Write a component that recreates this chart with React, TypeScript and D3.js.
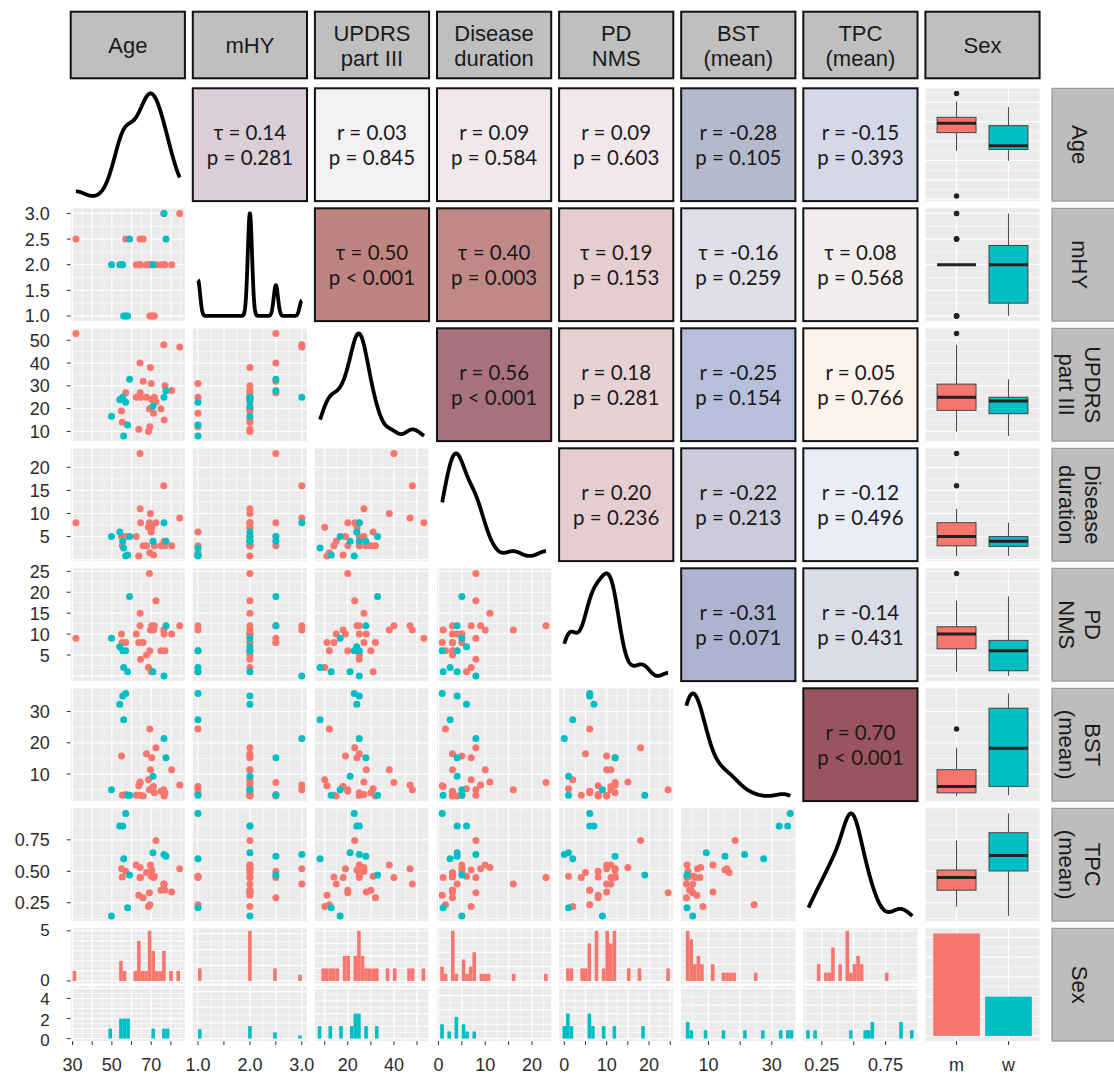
import React from "react";
import * as d3 from "d3";

// ---------------- data (one entry per subject: 26 men, 10 women) ----------------
const sex = [
  "m","m","m","m","m","m","m","m","m","m","m","m","m","m","m","m","m","m","m","m","m","m","m","m","m","m",
  "w","w","w","w","w","w","w","w","w","w",
];
const age = [
  31.7, 54.9, 55.3, 57.0, 62.4, 63.7, 64.3, 64.4, 64.6, 65.9, 67.6, 68.6, 69.1, 69.3, 69.6, 70.0, 70.3, 71.2, 71.6, 72.4, 75.0, 76.4, 76.6, 77.0, 80.4, 84.5,
  49.8, 77.5, 76.5, 70.9, 59.0, 54.0, 55.5, 57.0, 58.0, 56.0,
];
const mhy = [
  2.5, 2, 2, 2.5, 2, 2, 2.5, 2, 2, 2.5, 2, 2, 2, 1, 2, 1, 2, 1, 1, 2, 2, 3, 2, 2, 2, 3,
  2, 2.5, 3, 2, 2.5, 2, 2, 1, 1, 1,
];
const updrs = [
  53, 19, 14, 27, 25, 11, 40, 27, 25, 32, 25, 10, 20, 12, 38, 31, 24, 18, 25, 23, 20, 48, 15, 30, 28, 47,
  16.7, 27.8, 25, 21, 32.9, 23.9, 25, 22.8, 12.8, 8,
];
const duration = [
  8, 5, 3, 5, 5, 0.8, 23, 11, 8, 3, 3, 7, 8, 1.5, 10, 6, 7, 1, 3, 8, 3, 16, 4, 3, 3, 9,
  5, 4, 8, 4, 5, 6, 4, 0.8, 1, 2.5,
];
const nms = [
  9, 10, 8, 8, 10, 8, 12, 15, 4, 8, 5, 2, 24.5, 6, 11, 1, 12, 11, 12, 18, 6, 11, 10, 6, 10, 12,
  9, 12, 0, 1, 19, 7, 6, 6, 1, 2,
];
const bst = [
  null, 15.8, 3.2, 3.5, 3.2, 6.3, 7.3, 7.5, 3.2, 3, 16.5, 8.2, 5, 24.4, 11.4, 5.3, 15.2, 6, 4, 18.4, 4.5, 5, 3, 4, 11.4, 6.5,
  5, 15.2, 21.4, 9.3, 3.2, 32.3, 35, 35.8, 3.2, 27.4,
];
const tpc = [
  null, 0.52, 0.455, 0.5, 0.55, 0.31, 0.45, 0.53, 0.45, 0.29, 0.49, 0.22, 0.33, 0.235, 0.55, 0.46, 0.51, 0.45, 0.46, 0.745, 0.35, 0.4, 0.4, 0.35, 0.335, 0.52,
  0.145, 0.62, 0.633, 0.647, 0.47, 0.86, 0.86, 0.96, 0.21, 0.6,
];

const varNames = [["Age"], ["mHY"], ["UPDRS", "part III"], ["Disease", "duration"], ["PD", "NMS"], ["BST", "(mean)"], ["TPC", "(mean)"], ["Sex"]];
const sexLevels = ["m", "w"];

// tick values per variable (x axis, bottom) and label subsets
const tickVals = [
  [30, 40, 50, 60, 70, 80],
  [1, 1.5, 2, 2.5, 3],
  [10, 20, 30, 40, 50],
  [0, 5, 10, 15, 20],
  [0, 5, 10, 15, 20, 25],
  [10, 20, 30],
  [0.25, 0.5, 0.75],
];
const xLabelVals = [[30, 50, 70], [1, 2, 3], [20, 40], [0, 10, 20], [0, 10, 20], [10, 30], [0.25, 0.75]];
const yLabelVals = [[], [1, 1.5, 2, 2.5, 3], [10, 20, 30, 40, 50], [5, 10, 15, 20], [5, 10, 15, 20, 25], [10, 20, 30], [0.25, 0.5, 0.75]];
const labelDigits = [0, 1, 0, 0, 0, 0, 2];
const sexRowTopLabels = [0, 5];
const sexRowBottomLabels = [0, 2, 4];

// correlation cells, upper triangle row by row
const corrStat = [
  "τ = 0.14", "r = 0.03", "r = 0.09", "r = 0.09", "r = -0.28", "r = -0.15",
  "τ = 0.50", "τ = 0.40", "τ = 0.19", "τ = -0.16", "τ = 0.08",
  "r = 0.56", "r = 0.18", "r = -0.25", "r = 0.05",
  "r = 0.20", "r = -0.22", "r = -0.12",
  "r = -0.31", "r = -0.14",
  "r = 0.70",
];
const corrP = [
  "p = 0.281", "p = 0.845", "p = 0.584", "p = 0.603", "p = 0.105", "p = 0.393",
  "p < 0.001", "p = 0.003", "p = 0.153", "p = 0.259", "p = 0.568",
  "p < 0.001", "p = 0.281", "p = 0.154", "p = 0.766",
  "p = 0.236", "p = 0.213", "p = 0.496",
  "p = 0.071", "p = 0.431",
  "p < 0.001",
];
const corrFill = [
  "#dcced6", "#f3f1f3", "#f2e8eb", "#f2e8eb", "#b4bacc", "#d5d8e9",
  "#bf8381", "#c08886", "#e6cdd0", "#dedfe7", "#f3eeee",
  "#a7727d", "#e6d2d3", "#b7bfda", "#fdf3ec",
  "#e6cdd2", "#cbcbdc", "#e9edf6",
  "#aeb3cf", "#dadde8",
  "#99545f",
];

// ---------------- layout ----------------
const PX0 = 70.7, PSTEP = 122.1, PW = 114.2;
const PY0 = 88.3, PYSTEP = 120, PH = 112.8;
const HEAD_Y = 11.7, HEAD_H = 66.6;
const STRIP_X = 1052, STRIP_W = 70;
const COLORS: Record<string, string> = { m: "#F8766D", w: "#00BFC4" };
const PANEL_BG = "#EBEBEB";
const AXIS_FONT = "'Liberation Sans', Arial, sans-serif";
const CORR_FONT = "Lato, 'Noto Sans', 'DejaVu Sans', sans-serif";

const colL = (i: number) => PX0 + i * PSTEP;
const rowT = (j: number) => PY0 + j * PYSTEP;

function nrd0(x: number[]) {
  const s = d3.deviation(x) as number;
  const sorted = x.slice().sort(d3.ascending);
  const iqr = (d3.quantileSorted(sorted, 0.75) as number) - (d3.quantileSorted(sorted, 0.25) as number);
  let lo = Math.min(s, iqr / 1.34);
  if (!lo) lo = s || Math.abs(sorted[0]) || 1;
  return 0.9 * lo * Math.pow(x.length, -0.2);
}

function density(x: number[]) {
  const bw = nrd0(x);
  const [mn, mx] = d3.extent(x) as [number, number];
  const pts: [number, number][] = [];
  const N = 512;
  const c = 1 / (x.length * bw * Math.sqrt(2 * Math.PI));
  for (let i = 0; i < N; i++) {
    const t = mn + ((mx - mn) * i) / (N - 1);
    let s = 0;
    for (const v of x) {
      const z = (t - v) / bw;
      s += Math.exp(-0.5 * z * z);
    }
    pts.push([t, s * c]);
  }
  return pts;
}

function boxStats(vals: number[]) {
  const s = vals.slice().sort(d3.ascending);
  const q1 = d3.quantileSorted(s, 0.25) as number;
  const med = d3.quantileSorted(s, 0.5) as number;
  const q3 = d3.quantileSorted(s, 0.75) as number;
  const iqr = q3 - q1;
  const lo = q1 - 1.5 * iqr, hi = q3 + 1.5 * iqr;
  const inside = s.filter((v) => v >= lo && v <= hi);
  return { q1, med, q3, wlo: d3.min(inside) as number, whi: d3.max(inside) as number, out: s.filter((v) => v < lo || v > hi) };
}

function histBreaks(all: number[], bins = 30) {
  const [mn, mx] = d3.extent(all) as [number, number];
  const w = (mx - mn) / (bins - 1);
  const boundary = w / 2;
  const shift = Math.floor((mn - boundary) / w);
  const origin = boundary + shift * w;
  const breaks: number[] = [];
  for (let k = 0; origin + k * w <= mx + (1 - 1e-8) * w; k++) breaks.push(origin + k * w);
  return { breaks, origin, w };
}

function countBins(vals: number[], origin: number, w: number, nb: number) {
  const counts = new Array(nb).fill(0);
  for (const v of vals) {
    let k = Math.ceil((v - origin) / w - 1e-9) - 1;
    if (k < 0) k = 0;
    if (k > nb - 1) k = nb - 1;
    counts[k]++;
  }
  return counts;
}

function minors(ticks: number[], dom: number[]) {
  const step = ticks[1] - ticks[0];
  const out: number[] = [];
  for (let t = ticks[0] - step / 2; t <= ticks[ticks.length - 1] + step / 2 + 1e-9; t += step) {
    if (t >= dom[0] && t <= dom[1]) out.push(t);
  }
  return out;
}

function Grid(props: { x0: number; x1: number; y0: number; y1: number; xMaj: number[]; xMin: number[]; yMaj: number[]; yMin: number[] }) {
  const { x0, x1, y0, y1, xMaj, xMin, yMaj, yMin } = props;
  return (
    <g>
      <rect x={x0} y={y0} width={x1 - x0} height={y1 - y0} fill={PANEL_BG} />
      {xMin.map((x, i) => <line key={"xm" + i} x1={x} x2={x} y1={y0} y2={y1} stroke="#fff" strokeWidth={0.6} />)}
      {yMin.map((y, i) => <line key={"ym" + i} x1={x0} x2={x1} y1={y} y2={y} stroke="#fff" strokeWidth={0.6} />)}
      {xMaj.map((x, i) => <line key={"xM" + i} x1={x} x2={x} y1={y0} y2={y1} stroke="#fff" strokeWidth={1.2} />)}
      {yMaj.map((y, i) => <line key={"yM" + i} x1={x0} x2={x1} y1={y} y2={y} stroke="#fff" strokeWidth={1.2} />)}
    </g>
  );
}

export default function App() {
  const vars: (number | null)[][] = [age, mhy, updrs, duration, nms, bst, tpc];
  const nV = vars.length;
  const clean = vars.map((v) => v.filter((x) => x != null) as number[]);
  const domains = clean.map((v) => {
    const [a, b] = d3.extent(v) as [number, number];
    const pad = (b - a) * 0.05;
    return [a - pad, b + pad];
  });
  const xs = domains.map((d, i) => d3.scaleLinear().domain(d).range([colL(i), colL(i) + PW]));
  const ys = domains.map((d, i) => d3.scaleLinear().domain(d).range([rowT(i) + PH, rowT(i)]));
  const majV = tickVals.map((t, i) => t.filter((v) => v >= domains[i][0] && v <= domains[i][1]));
  const minV = tickVals.map((t, i) => minors(t, domains[i]));

  const els: React.ReactNode[] = [];

  // column headers
  varNames.forEach((lines, c) => {
    const x = colL(c);
    const cy = HEAD_Y + HEAD_H / 2;
    els.push(
      <g key={"head" + c}>
        <rect x={x} y={HEAD_Y} width={PW} height={HEAD_H} fill="#bfbfbf" stroke="#111" strokeWidth={2} />
        {lines.map((ln, k) => (
          <text key={k} x={x + PW / 2} y={lines.length === 1 ? cy + 8 : cy + (k === 0 ? -4.5 : 21)} textAnchor="middle"
            fontFamily={AXIS_FONT} fontSize={22} fill="#1a1a1a">{ln}</text>
        ))}
      </g>
    );
  });

  // row strips
  varNames.forEach((lines, r) => {
    const y = rowT(r);
    const cx = 1080, cy = y + PH / 2;
    els.push(
      <g key={"strip" + r}>
        <rect x={STRIP_X} y={y} width={STRIP_W} height={PH} fill="#bdbdbd" stroke="#8a8a8a" strokeWidth={1} />
        <g transform={`translate(${cx},${cy}) rotate(90)`}>
          {lines.map((ln, k) => (
            <text key={k} x={0} y={lines.length === 1 ? 8 : k === 0 ? -4.5 : 21} textAnchor="middle"
              fontFamily={AXIS_FONT} fontSize={22} fill="#1a1a1a">{ln}</text>
          ))}
        </g>
      </g>
    );
  });

  let corrIdx = 0;
  for (let r = 0; r < nV; r++) {
    for (let c = 0; c < nV; c++) {
      const x0 = colL(c), y0 = rowT(r), x1 = x0 + PW, y1 = y0 + PH;
      if (r < c) {
        const k = corrIdx++;
        const cy = y0 + PH / 2;
        els.push(
          <g key={`corr${r}-${c}`}>
            <rect x={x0} y={y0} width={PW} height={PH} fill={corrFill[k]} stroke="#111" strokeWidth={2} />
            <text x={x0 + PW / 2} y={cy - 5} textAnchor="middle" fontFamily={CORR_FONT} fontSize={20.5} fill="#1a1a1a">{corrStat[k]}</text>
            <text x={x0 + PW / 2} y={cy + 20.5} textAnchor="middle" fontFamily={CORR_FONT} fontSize={20.5} fill="#1a1a1a">{corrP[k]}</text>
          </g>
        );
      } else if (r === c) {
        const dens = density(clean[c]);
        const dy = d3.extent(dens, (d) => d[1]) as [number, number];
        const pad = (dy[1] - dy[0]) * 0.05;
        const yS = d3.scaleLinear().domain([dy[0] - pad, dy[1] + pad]).range([y1, y0]);
        const line = d3.line<[number, number]>().x((d) => xs[c](d[0])).y((d) => yS(d[1])).curve(d3.curveLinear);
        els.push(<path key={`dens${c}`} d={line(dens) || ""} fill="none" stroke="#000" strokeWidth={3.8} strokeLinejoin="round" strokeLinecap="butt" />);
      } else {
        const xv = vars[c], yv = vars[r];
        els.push(
          <g key={`sc${r}-${c}`}>
            <Grid x0={x0} x1={x1} y0={y0} y1={y1}
              xMaj={majV[c].map((v) => xs[c](v))} xMin={minV[c].map((v) => xs[c](v))}
              yMaj={majV[r].map((v) => ys[r](v))} yMin={minV[r].map((v) => ys[r](v))} />
            {sex.map((s, i) =>
              xv[i] != null && yv[i] != null ? (
                <circle key={i} cx={xs[c](xv[i] as number)} cy={ys[r](yv[i] as number)} r={3.5} fill={COLORS[s]} />
              ) : null
            )}
          </g>
        );
      }
    }
  }

  // boxplots (Sex column)
  const sexX = (x0: number) => d3.scaleLinear().domain([0.4, 2.6]).range([x0, x0 + PW]);
  for (let r = 0; r < nV; r++) {
    const c = 7;
    const x0 = colL(c), y0 = rowT(r), x1 = x0 + PW, y1 = y0 + PH;
    const sx = sexX(x0);
    const parts: React.ReactNode[] = [];
    sexLevels.forEach((lev, li) => {
      const vals = vars[r].filter((v, i) => v != null && sex[i] === lev) as number[];
      const st = boxStats(vals);
      const cx = sx(li + 1);
      const hw = sx(0.375) - sx(0);
      const y = ys[r];
      parts.push(
        <g key={lev}>
          <line x1={cx} x2={cx} y1={y(st.whi)} y2={y(st.q3)} stroke="#444" strokeWidth={1} />
          <line x1={cx} x2={cx} y1={y(st.q1)} y2={y(st.wlo)} stroke="#444" strokeWidth={1} />
          <rect x={cx - hw} y={y(st.q3)} width={2 * hw} height={Math.max(0, y(st.q1) - y(st.q3))} fill={COLORS[lev]} stroke="#444" strokeWidth={1} />
          <line x1={cx - hw} x2={cx + hw} y1={y(st.med)} y2={y(st.med)} stroke="#222" strokeWidth={3} />
          {st.out.map((o, k) => <circle key={k} cx={cx} cy={y(o)} r={2.7} fill="#222" />)}
        </g>
      );
    });
    els.push(
      <g key={`box${r}`}>
        <Grid x0={x0} x1={x1} y0={y0} y1={y1} xMaj={[sx(1), sx(2)]} xMin={[]}
          yMaj={majV[r].map((v) => ys[r](v))} yMin={minV[r].map((v) => ys[r](v))} />
        {parts}
      </g>
    );
  }

  // facet histograms (bottom row)
  const GAP = 2.5;
  const hf = (PH - GAP) / 2;
  const r8 = rowT(7);
  let ageHistScale: any = null;
  let ageHistScaleB: any = null;
  for (let c = 0; c < nV; c++) {
    const x0 = colL(c), x1 = x0 + PW;
    const { breaks, origin, w } = histBreaks(clean[c]);
    const nb = breaks.length - 1;
    const cnt = sexLevels.map((lev) => countBins(vars[c].filter((v, i) => v != null && sex[i] === lev) as number[], origin, w, nb));
    const maxC = d3.max(cnt.flat()) as number;
    const facets = [r8, r8 + hf + GAP];
    const parts: React.ReactNode[] = [];
    facets.forEach((fy, fi) => {
      const yS = d3.scaleLinear().domain([-0.05 * maxC, 1.05 * maxC]).range([fy + hf, fy]);
      if (c === 0) {
        if (fi === 0) ageHistScale = yS; else ageHistScaleB = yS;
      }
      const yt = d3.ticks(0, maxC, 4);
      const ystep = yt.length > 1 ? yt[1] - yt[0] : 1;
      const yMinor = yt.map((t) => t + ystep / 2).filter((t) => t <= 1.05 * maxC);
      parts.push(
        <g key={"f" + fi}>
          <Grid x0={x0} x1={x1} y0={fy} y1={fy + hf}
            xMaj={majV[c].map((v) => xs[c](v))} xMin={minV[c].map((v) => xs[c](v))}
            yMaj={yt.map((t) => yS(t))} yMin={yMinor.map((t) => yS(t))} />
          {cnt[fi].map((n, k) =>
            n > 0 ? (
              <rect key={k} x={xs[c](breaks[k])} width={xs[c](breaks[k + 1]) - xs[c](breaks[k])}
                y={yS(n)} height={yS(0) - yS(n)} fill={COLORS[sexLevels[fi]]} />
            ) : null
          )}
        </g>
      );
    });
    els.push(<g key={`hist${c}`}>{parts}</g>);
  }

  // Sex bar chart
  {
    const c = 7;
    const x0 = colL(c), x1 = x0 + PW, y0 = r8, y1 = r8 + PH;
    const sx = sexX(x0);
    const counts = sexLevels.map((lev) => sex.filter((s) => s === lev).length);
    const mx = d3.max(counts) as number;
    const yS = d3.scaleLinear().domain([-0.05 * mx, 1.05 * mx]).range([y1, y0]);
    const yt = d3.ticks(0, mx, 5);
    const yMinor = yt.map((t) => t + (yt[1] - yt[0]) / 2).filter((t) => t <= 1.05 * mx);
    els.push(
      <g key="sexbar">
        <Grid x0={x0} x1={x1} y0={y0} y1={y1} xMaj={[sx(1), sx(2)]} xMin={[]}
          yMaj={yt.map((t) => yS(t))} yMin={yMinor.map((t) => yS(t))} />
        {counts.map((n, i) => (
          <rect key={i} x={sx(i + 1 - 0.45)} width={sx(0.9) - sx(0)} y={yS(n)} height={yS(0) - yS(n)} fill={COLORS[sexLevels[i]]} />
        ))}
      </g>
    );
  }

  // left axis (first column)
  const axisEls: React.ReactNode[] = [];
  const L0 = colL(0);
  for (let r = 1; r < nV; r++) {
    yLabelVals[r].forEach((v, k) => {
      const y = ys[r](v);
      axisEls.push(
        <g key={`yl${r}-${k}`}>
          <line x1={L0 - 4} x2={L0} y1={y} y2={y} stroke="#333" strokeWidth={1} />
          <text x={L0 - 21} y={y + 6.5} textAnchor="end" fontFamily={AXIS_FONT} fontSize={18} fill="#2b2b2b">{v.toFixed(labelDigits[r])}</text>
        </g>
      );
    });
  }
  sexRowTopLabels.forEach((v, k) => {
    const y = ageHistScale(v);
    axisEls.push(
      <g key={`hl${k}`}>
        <line x1={L0 - 4} x2={L0} y1={y} y2={y} stroke="#333" strokeWidth={1} />
        <text x={L0 - 21} y={y + 5.5} textAnchor="end" fontFamily={AXIS_FONT} fontSize={17} fill="#2b2b2b">{v}</text>
      </g>
    );
  });
  sexRowBottomLabels.forEach((v, k) => {
    const y = ageHistScaleB(v);
    axisEls.push(
      <g key={`hb${k}`}>
        <line x1={L0 - 4} x2={L0} y1={y} y2={y} stroke="#333" strokeWidth={1} />
        <text x={L0 - 21} y={y + 7} textAnchor="end" fontFamily={AXIS_FONT} fontSize={17} fill="#2b2b2b">{v}</text>
      </g>
    );
  });

  // bottom axis
  const B = r8 + PH;
  for (let c = 0; c < nV; c++) {
    majV[c].forEach((v, k) => {
      const x = xs[c](v);
      axisEls.push(<line key={`xt${c}-${k}`} x1={x} x2={x} y1={B} y2={B + 4} stroke="#333" strokeWidth={1} />);
    });
    xLabelVals[c].forEach((v, k) => {
      const x = xs[c](v);
      axisEls.push(
        <text key={`xl${c}-${k}`} x={x} y={B + 30} textAnchor="middle" fontFamily={AXIS_FONT} fontSize={18} fill="#2b2b2b">
          {v.toFixed(labelDigits[c])}
        </text>
      );
    });
  }
  {
    const sx = sexX(colL(7));
    sexLevels.forEach((lev, i) => {
      axisEls.push(<line key={`st${i}`} x1={sx(i + 1)} x2={sx(i + 1)} y1={B} y2={B + 4} stroke="#333" strokeWidth={1} />);
      axisEls.push(
        <text key={`sl${i}`} x={sx(i + 1)} y={B + 30} textAnchor="middle" fontFamily={AXIS_FONT} fontSize={18} fill="#2b2b2b">{lev}</text>
      );
    });
  }

  return (
    <svg width={1114} height={1074} style={{ position: "absolute", left: 0, top: 0, background: "#fff" }}>
      <rect x={0} y={0} width={1114} height={1074} fill="#fff" />
      {els}
      {axisEls}
    </svg>
  );
}
